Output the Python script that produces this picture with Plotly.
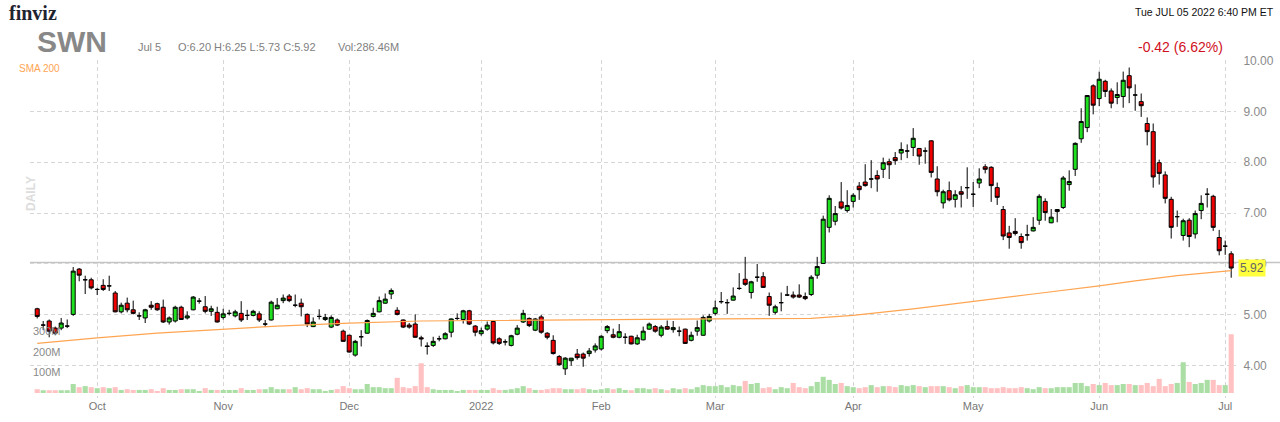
import pandas as pd
import plotly.graph_objects as go

# trading days Sep 17 2021 .. Jul 5 2022 (NYSE holidays removed)
holidays = ["2021-11-25", "2021-12-24", "2022-01-17", "2022-02-21",
            "2022-04-15", "2022-05-30", "2022-06-20", "2022-07-04"]
days = [d.strftime("%Y-%m-%d") for d in pd.bdate_range("2021-09-17", "2022-07-05")]
days = [d for d in days if d not in holidays]

opens = [
    5.12, 4.80, 4.88, 4.74, 4.74, 4.78, 5.01, 5.90, 5.69, 5.69,
    5.50, 5.58, 5.57, 5.43, 5.06, 5.23, 5.10, 4.98, 4.94, 5.19, 5.22, 5.15, 4.86, 4.88, 5.15, 4.94, 5.10, 5.27, 5.16, 5.07, 5.05,
    4.95, 5.03, 4.98, 5.03, 4.99, 4.99, 5.02, 4.82, 4.90, 5.12, 5.28, 5.37, 5.19, 5.23, 5.01, 4.77, 4.97, 4.91, 4.76, 4.90, 4.68,
    4.60, 4.21, 4.57, 4.64, 4.97, 5.06, 5.23, 5.41, 5.09, 4.90, 4.80, 4.82, 4.55, 4.39, 4.40, 4.53, 4.53, 4.66, 4.93, 4.91, 5.08, 4.78,
    4.63, 4.72, 4.87, 4.53, 4.47, 4.40, 4.62, 4.86, 4.93, 4.70, 4.96, 4.64, 4.50, 4.18, 3.94, 4.10, 4.23, 4.23, 4.24, 4.31,
    4.33, 4.69, 4.61, 4.56, 4.56, 4.58, 4.43, 4.51, 4.72, 4.77, 4.60, 4.77, 4.71, 4.68, 4.72, 4.50, 4.68, 4.60, 4.88,
    5.03, 5.26, 5.24, 5.29, 5.52, 5.70, 5.44, 5.74, 5.75, 5.36, 5.05, 5.24, 5.39, 5.39, 5.39, 5.36, 5.40, 5.78, 6.01, 6.72, 6.84, 7.22, 7.05,
    7.23, 7.53, 7.61, 7.67, 7.74, 7.86, 8.01, 8.09, 8.18, 8.22, 8.29, 8.27, 8.22, 8.42, 7.67, 7.20, 7.44, 7.27, 7.42, 7.50,
    7.37, 7.59, 7.91, 7.90, 7.50, 7.07, 6.61, 6.64, 6.54, 6.57, 6.65, 6.86, 7.23, 6.81, 7.03, 7.11, 7.56, 7.86, 8.46, 8.68, 9.50,
    9.25, 9.59, 9.40, 9.27, 9.29, 9.70, 9.32, 9.19, 8.76, 8.60, 7.99, 7.75, 7.27, 6.93, 6.56, 6.86, 6.59, 7.05, 7.37, 7.33, 6.52,
    6.35, 6.20,
]
highs = [
    5.14, 4.88, 4.91, 4.77, 4.94, 4.91, 5.94, 5.92, 5.77, 5.73,
    5.53, 5.70, 5.77, 5.47, 5.24, 5.34, 5.28, 5.05, 5.12, 5.27, 5.24, 5.30, 4.97, 5.18, 5.18, 5.07, 5.37, 5.33, 5.37, 5.18, 5.16,
    5.12, 5.10, 5.10, 5.27, 5.10, 5.10, 5.07, 4.90, 5.28, 5.33, 5.40, 5.41, 5.40, 5.32, 5.03, 4.95, 5.11, 5.02, 4.99, 4.93, 4.71,
    4.61, 4.51, 4.70, 4.91, 5.14, 5.36, 5.42, 5.52, 5.15, 4.91, 4.84, 5.01, 4.59, 4.46, 4.57, 4.59, 4.66, 4.93, 5.03, 5.10, 5.10, 4.80,
    4.75, 4.87, 4.90, 4.56, 4.52, 4.61, 4.80, 5.10, 4.95, 4.94, 5.00, 4.66, 4.60, 4.21, 4.17, 4.15, 4.33, 4.26, 4.35, 4.44,
    4.60, 4.80, 4.73, 4.82, 4.64, 4.59, 4.61, 4.77, 4.85, 4.80, 4.80, 4.89, 4.88, 4.77, 4.73, 4.67, 4.89, 4.99, 5.02,
    5.28, 5.45, 5.31, 5.54, 5.82, 6.14, 5.67, 6.00, 5.84, 5.44, 5.20, 5.44, 5.57, 5.46, 5.60, 5.44, 5.78, 6.14, 6.95, 7.35, 7.14, 7.61, 7.45,
    7.39, 7.61, 7.96, 8.04, 7.84, 8.09, 8.07, 8.20, 8.39, 8.35, 8.67, 8.28, 8.29, 8.43, 7.92, 7.46, 7.62, 7.45, 7.53, 7.90,
    7.61, 7.88, 7.96, 7.92, 7.60, 7.14, 6.75, 6.90, 6.60, 6.77, 6.92, 7.37, 7.29, 7.08, 7.08, 7.73, 7.84, 8.39, 9.06, 9.32, 9.53,
    9.78, 9.62, 9.45, 9.57, 9.78, 9.86, 9.53, 9.35, 8.88, 8.76, 8.05, 7.82, 7.32, 7.05, 6.89, 6.90, 7.05, 7.35, 7.49, 7.36, 6.67,
    6.46, 6.25,
]
lows = [
    4.93, 4.70, 4.56, 4.60, 4.70, 4.74, 4.98, 5.66, 5.41, 5.50,
    5.39, 5.47, 5.47, 5.05, 5.03, 5.05, 5.01, 4.90, 4.84, 5.10, 5.08, 4.84, 4.81, 4.85, 4.90, 4.91, 5.09, 5.22, 5.03, 4.98, 4.85,
    4.91, 4.99, 4.95, 4.86, 4.90, 4.97, 4.86, 4.76, 4.89, 5.11, 5.23, 5.25, 5.15, 4.97, 4.76, 4.76, 4.91, 4.88, 4.74, 4.78, 4.47,
    4.26, 4.18, 4.38, 4.63, 4.95, 5.05, 5.22, 5.31, 4.99, 4.74, 4.73, 4.55, 4.38, 4.22, 4.37, 4.48, 4.52, 4.56, 4.90, 4.83, 4.80, 4.58,
    4.59, 4.69, 4.42, 4.41, 4.40, 4.38, 4.60, 4.84, 4.76, 4.68, 4.63, 4.52, 4.22, 4.00, 3.82, 4.00, 4.12, 3.98, 4.18, 4.26,
    4.30, 4.64, 4.54, 4.54, 4.43, 4.42, 4.41, 4.50, 4.71, 4.65, 4.56, 4.71, 4.65, 4.58, 4.43, 4.48, 4.59, 4.59, 4.85,
    4.99, 5.22, 5.02, 5.28, 5.49, 5.57, 5.32, 5.65, 5.53, 4.98, 5.01, 5.07, 5.37, 5.32, 5.33, 5.29, 5.37, 5.71, 6.00, 6.62, 6.76, 7.07, 7.01,
    7.11, 7.26, 7.52, 7.49, 7.42, 7.69, 7.67, 7.95, 8.04, 8.08, 8.12, 7.95, 7.97, 7.70, 7.33, 7.09, 7.23, 7.11, 7.11, 7.28,
    7.12, 7.49, 7.78, 7.22, 7.16, 6.47, 6.30, 6.56, 6.30, 6.46, 6.64, 6.77, 6.85, 6.80, 6.82, 7.08, 7.44, 7.73, 8.38, 8.59, 8.94,
    9.10, 9.28, 9.06, 9.14, 9.07, 9.16, 9.01, 8.89, 8.33, 7.50, 7.56, 7.19, 6.50, 6.73, 6.46, 6.33, 6.50, 6.88, 7.11, 6.65, 6.17,
    6.18, 5.73,
]
closes = [
    4.97, 4.80, 4.68, 4.64, 4.84, 4.78, 5.86, 5.78, 5.69, 5.53,
    5.50, 5.50, 5.57, 5.06, 5.19, 5.10, 5.03, 4.98, 5.10, 5.15, 5.10, 4.86, 4.94, 5.15, 4.91, 4.98, 5.35, 5.27, 5.07, 5.12, 4.86,
    5.02, 5.03, 5.06, 4.90, 4.99, 5.07, 4.90, 4.82, 5.25, 5.19, 5.33, 5.28, 5.19, 5.16, 4.82, 4.86, 4.97, 4.95, 4.95, 4.80, 4.48,
    4.27, 4.48, 4.57, 4.89, 5.03, 5.28, 5.31, 5.48, 5.01, 4.76, 4.76, 4.56, 4.53, 4.38, 4.48, 4.53, 4.63, 4.92, 4.93, 5.08, 4.82, 4.66,
    4.69, 4.80, 4.45, 4.44, 4.47, 4.59, 4.74, 5.03, 4.79, 4.92, 4.66, 4.56, 4.24, 4.02, 4.15, 4.15, 4.16, 4.15, 4.29, 4.39,
    4.58, 4.77, 4.56, 4.67, 4.56, 4.43, 4.55, 4.68, 4.82, 4.68, 4.76, 4.72, 4.75, 4.68, 4.44, 4.60, 4.75, 4.95, 4.97,
    5.14, 5.26, 5.24, 5.37, 5.52, 5.60, 5.65, 5.74, 5.54, 5.19, 5.16, 5.24, 5.39, 5.35, 5.35, 5.32, 5.74, 5.95, 6.88, 7.29, 6.99, 7.10, 7.15,
    7.35, 7.46, 7.54, 7.67, 7.67, 7.99, 7.95, 8.03, 8.25, 8.22, 8.47, 8.12, 8.22, 7.80, 7.42, 7.42, 7.26, 7.36, 7.37, 7.50,
    7.37, 7.67, 7.86, 7.54, 7.31, 6.55, 6.52, 6.60, 6.42, 6.57, 6.72, 7.33, 7.01, 6.92, 7.07, 7.69, 7.62, 8.37, 8.80, 9.31, 9.12,
    9.63, 9.39, 9.16, 9.33, 9.61, 9.46, 9.32, 9.11, 8.60, 7.71, 7.78, 7.29, 6.72, 6.93, 6.85, 6.54, 6.99, 7.19, 7.37, 6.72, 6.26,
    6.35, 5.92,
]
# volume in millions of shares
volume = [
    18.5, 13.5, 13.5, 13.5, 13.5, 13.5, 44, 28.5, 33.5, 28.5,
    23.5, 28.5, 23.5, 28.5, 15, 18.5, 15, 15, 15, 18.5, 10, 23.5, 15, 15, 18.5, 18.5, 18.5, 10, 23.5, 15, 15,
    15, 15, 15, 23.5, 15, 15, 18.5, 18.5, 28.5, 18.5, 18.5, 18.5, 28.5, 18.5, 23.5, 18.5, 18.5, 10, 15, 18.5, 33.5,
    23.5, 18.5, 18.5, 44, 28.5, 28.5, 23.5, 23.5, 74, 28.5, 23.5, 33.5, 145, 28.5, 18.5, 15, 15, 15, 10, 15, 15, 15,
    15, 15, 23.5, 15, 15, 18.5, 23.5, 33.5, 23.5, 15, 15, 18.5, 23.5, 23.5, 18.5, 18.5, 18.5, 23.5, 18.5, 15,
    18.5, 23.5, 18.5, 23.5, 15, 13.5, 23.5, 23.5, 18.5, 23.5, 18.5, 13.5, 23.5, 18.5, 23.5, 18.5, 28.5, 38.5, 33.5,
    33.5, 38.5, 28.5, 38.5, 33.5, 59, 44, 49, 23.5, 28.5, 18.5, 28.5, 23.5, 49, 28.5, 23.5, 33.5, 54, 79, 64, 44, 49, 33.5,
    28.5, 23.5, 28.5, 38.5, 28.5, 33.5, 33.5, 28.5, 38.5, 33.5, 38.5, 33.5, 28.5, 33.5, 33.5, 33.5, 28.5, 23.5, 33.5, 38.5,
    28.5, 28.5, 28.5, 23.5, 23.5, 28.5, 23.5, 23.5, 28.5, 23.5, 18.5, 28.5, 23.5, 23.5, 28.5, 28.5, 28.5, 49, 49, 33.5, 44,
    38.5, 49, 38.5, 38.5, 44, 44, 38.5, 38.5, 49, 33.5, 69, 33.5, 44, 49, 150, 54, 44, 49, 64, 64, 38.5,
    38.5, 286.46,
]
assert len(days) == len(opens) == len(highs) == len(lows) == len(closes) == len(volume) == 200

# SMA 200
sma_dates = ["2021-09-17", "2021-10-01", "2021-10-15", "2021-11-01", "2021-11-12",
             "2021-12-01", "2021-12-17", "2022-01-03", "2022-02-01", "2022-03-01",
             "2022-03-23", "2022-04-01", "2022-04-18", "2022-05-02", "2022-05-16",
             "2022-06-01", "2022-06-09", "2022-06-21", "2022-07-05"]
sma_values = [4.44, 4.55, 4.64, 4.72, 4.78, 4.84, 4.88, 4.89, 4.91, 4.92,
              4.93, 4.99, 5.12, 5.26, 5.41, 5.57, 5.67, 5.77, 5.87]

month_ticks = ["2021-10-01", "2021-11-01", "2021-12-01", "2022-01-03", "2022-02-01",
               "2022-03-01", "2022-04-01", "2022-05-02", "2022-06-01", "2022-07-01"]
month_labels = ["Oct", "Nov", "Dec", "2022", "Feb", "Mar", "Apr", "May", "Jun", "Jul"]
price_ticks = [4, 5, 6, 7, 8, 9, 10]
vol_ticks = [100, 200, 300]

FONT = "Liberation Sans"
GRID = "#d6d6d6"

vol_colors = ["#aadea4" if c >= o else "#ffc1c1" for o, c in zip(opens, closes)]

fig = go.Figure()

# volume (drawn underneath)
fig.add_trace(go.Bar(
    x=days, y=volume, yaxis="y",
    marker=dict(color=vol_colors, line_width=0),
    showlegend=False, hoverinfo="skip"
))

# SMA 200
fig.add_trace(go.Scatter(
    x=sma_dates, y=sma_values, yaxis="y2", mode="lines",
    line=dict(color="#ffa552", width=1.2),
    showlegend=False, hoverinfo="skip"
))

# candles
fig.add_trace(go.Candlestick(
    x=days, open=opens, high=highs, low=lows, close=closes, yaxis="y2",
    increasing=dict(fillcolor="#1ee01e", line=dict(color="#000000", width=1)),
    decreasing=dict(fillcolor="#ee0000", line=dict(color="#000000", width=1)),
    whiskerwidth=0, showlegend=False, hoverinfo="skip"
))

fig.update_layout(
    width=1280, height=422,
    margin=dict(l=30, r=44, t=60, b=24),
    paper_bgcolor="white", plot_bgcolor="white",
    font=dict(family=FONT, color="#888888", size=11),
    bargap=0.15, boxgap=0.33, boxgroupgap=0,
    xaxis=dict(
        type="category", range=[-1.2, 199.8], automargin=False,
        tickvals=month_ticks, ticktext=month_labels,
        showgrid=True, gridcolor=GRID, griddash="4px,3px", gridwidth=1,
        ticks="", showline=False, zeroline=False,
        tickfont=dict(size=11, color="#777777"),
        rangeslider=dict(visible=False),
    ),
    yaxis=dict(
        range=[-24.4, 1624.4], side="left", automargin=False,
        tickvals=vol_ticks, ticktext=[f"{v}M" for v in vol_ticks],
        ticklabelposition="inside", ticks="",
        showgrid=False, zeroline=False, showline=False,
        tickfont=dict(size=11, color="#8a8a8a"),
    ),
    yaxis2=dict(
        overlaying="y", side="right", range=[3.367, 10.008], automargin=False,
        tickvals=price_ticks, ticktext=[f"{v:.2f}" for v in price_ticks],
        showgrid=True, gridcolor=GRID, griddash="4px,3px", gridwidth=1,
        ticks="outside", ticklen=4, tickcolor="white",
        zeroline=False, showline=False,
        tickfont=dict(size=12, color="#8a8a8a"),
    ),
)

def px_x(p):
    return (p - 30) / 1206

def px_y(p):
    return (398 - p) / 338

# thin solid level line that runs out to the right edge of the page
fig.add_shape(type="line", xref="paper", yref="paper", x0=0, x1=px_x(1280),
              y0=px_y(262.5), y1=px_y(262.5), line=dict(color="#c4c4c4", width=1.5),
              layer="below")

ann = [
    dict(text="<b>finviz</b>", x=px_x(7), y=px_y(13), xanchor="left",
         font=dict(family="Liberation Serif", size=20, color="#1f2330")),
    dict(text="<b>SWN</b>", x=px_x(35), y=px_y(42), xanchor="left",
         font=dict(family=FONT, size=30, color="#888888")),
    dict(text="Jul 5", x=px_x(136), y=px_y(47), xanchor="left",
         font=dict(size=11, color="#808080")),
    dict(text="O:6.20 H:6.25 L:5.73 C:5.92", x=px_x(176), y=px_y(47), xanchor="left",
         font=dict(size=11, color="#808080")),
    dict(text="Vol:286.46M", x=px_x(336), y=px_y(47), xanchor="left",
         font=dict(size=11, color="#808080")),
    dict(text="Tue JUL 05 2022 6:40 PM ET", x=px_x(1276), y=px_y(12), xanchor="right",
         font=dict(size=10.5, color="#111111")),
    dict(text="-0.42 (6.62%)", x=px_x(1225), y=px_y(47), xanchor="right",
         font=dict(size=14, color="#d0101e")),
    dict(text="SMA 200", x=px_x(17), y=px_y(68), xanchor="left",
         font=dict(size=10, color="#ffa552")),
    dict(text="<b>DAILY</b>", x=px_x(22), y=px_y(194), textangle=-90,
         font=dict(size=12, color="#dcdcdc")),
]
for a in ann:
    a.update(xref="paper", yref="paper", showarrow=False, yanchor="middle")
    fig.add_annotation(**a)

# last price tag
fig.add_annotation(x=1, xref="paper", xanchor="left", xshift=2, y=closes[-1], yref="y2",
                   text=f"{closes[-1]:.2f}", showarrow=False, bgcolor="#ffff3c",
                   borderpad=1, font=dict(size=12, color="#666666"))

# the page's default 8px body margin would push the figure off its 1280x422 frame
fig.write_html("out.html", config={"displayModeBar": False},
               post_script="document.body.style.margin='0';")
